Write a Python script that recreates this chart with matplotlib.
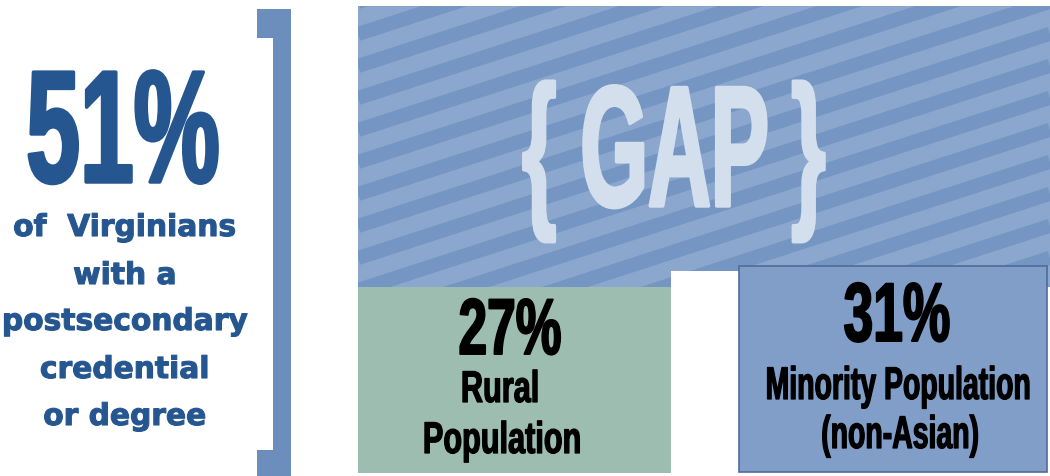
import matplotlib
matplotlib.use("Agg")
import numpy as np
import matplotlib.pyplot as plt
from matplotlib import font_manager
from matplotlib.patheffects import AbstractPathEffect
from matplotlib.transforms import Affine2D, Bbox
from matplotlib.patches import Rectangle
from matplotlib.text import Text

# ---- data ----
total_share = 51
total_lines = ["of  Virginians", "with a", "postsecondary", "credential", "or degree"]
group_names = ["Rural\nPopulation", "Minority Population\n(non-Asian)"]
group_shares = [27, 31]
gap_label = "{ GAP }"

# ---- colours ----
DARK_BLUE = "#25568f"
BRACKET = "#6c8ebc"
STRIPE_LIGHT = "#8ba7cd"
STRIPE_DARK = "#7596c3"
GREEN = "#9dbdb1"
BOX_BLUE = "#809ec8"
BOX_EDGE = "#4d6c9c"
GAP_TEXT = "#d3dfed"


class Tall(AbstractPathEffect):
    # stretch glyphs vertically from the baseline (gives a condensed look),
    # optionally thickening them with a stroke
    def __init__(self, sy, lw=0.0):
        super().__init__()
        self.sy = sy
        self.lw = lw

    def draw_path(self, renderer, gc, tpath, affine, rgbFace=None):
        by = affine.transform((0, 0))[1]
        t = affine + Affine2D().translate(0, -by).scale(1, self.sy).translate(0, by)
        gc0 = renderer.new_gc()
        gc0.copy_properties(gc)
        if self.lw > 0:
            gc0.set_linewidth(self.lw)
            gc0.set_foreground(rgbFace)
            gc0.set_joinstyle("round")
        renderer.draw_path(gc0, tpath, t, rgbFace)
        gc0.restore()


class TallText(Text):
    # report the stretched height so the extent matches what is drawn
    def __init__(self, *args, sy=1.0, **kwargs):
        super().__init__(*args, **kwargs)
        self._sy = sy

    def get_window_extent(self, renderer=None, dpi=None):
        bb = super().get_window_extent(renderer, dpi)
        by = self.get_transform().transform(self.get_unitless_position())[1]
        return Bbox.from_extents(bb.x0, by + (bb.y0 - by) * self._sy,
                                 bb.x1, by + (bb.y1 - by) * self._sy)


def pick_font():
    names = {f.name for f in font_manager.fontManager.ttflist}
    if "Liberation Sans Narrow" in names:
        return "Liberation Sans Narrow", 0.82
    return "Liberation Sans", 1.0


COND, COND_W = pick_font()


def cond_text(x, y, s, size, sx, color="black", lw=0.0, family=None):
    # size: height wanted; sx: width factor relative to Liberation Sans
    k = sx / COND_W if family is None else sx
    t = TallText(x, y, s, ha="center", va="baseline", fontsize=size * k,
                 family=family or COND, fontweight="bold", color=color,
                 path_effects=[Tall(1 / k, lw)], zorder=5, sy=1 / k)
    ax.add_artist(t)


fig = plt.figure(figsize=(10.5, 4.77), dpi=100)
ax = fig.add_axes([0, 0, 1, 1])
ax.set_xlim(0, 1050)
ax.set_ylim(477, 0)
ax.axis("off")

# bracket
for (x0, y0, w, h) in [(257, 10, 34, 29), (273, 10, 18, 467), (257, 451, 34, 26)]:
    ax.add_patch(Rectangle((x0, y0), w, h, color=BRACKET, lw=0))

# striped gap block
gap = ax.bar(358, 281, bottom=7, width=692, align="edge",
             color=STRIPE_LIGHT, linewidth=0, zorder=1)[0]
slope = 0.324
for c in np.arange(35 - 32 * 2, 288 + slope * 700 + 40, 32):
    ln, = ax.plot([358, 1050], [c, c - slope * 692], color=STRIPE_DARK,
                  lw=10.2, solid_capstyle="butt", zorder=2)
    ln.set_clip_path(gap)

# white notch between the two groups
ax.add_patch(Rectangle((671, 272), 68, 205, color="white", lw=0, zorder=3))

# group bars
bar_left = [358, 739]
bar_width = [313, 308]
bar_top = [288, 267]
bar_bottom = [474, 473]
ax.bar(bar_left[0], bar_bottom[0] - bar_top[0], bottom=bar_top[0],
       width=bar_width[0], align="edge", color=GREEN, linewidth=0, zorder=3)
ax.bar(bar_left[1], bar_bottom[1] - bar_top[1], bottom=bar_top[1],
       width=bar_width[1], align="edge", color=BOX_BLUE,
       edgecolor=BOX_EDGE, linewidth=1.2, zorder=3)

# gap label
cond_text(674, 207, gap_label, 124, 0.505, GAP_TEXT, lw=2.5)

# left side
cond_text(123, 183, f"{total_share}%", 115, 0.605, DARK_BLUE, lw=2.5)
line_y = [237, 285, 331, 379, 426]
for s, y in zip(total_lines, line_y):
    cond_text(125, y, s, 21.6, 0.99, DARK_BLUE, lw=0.8, family="DejaVu Sans")

# rural
cond_text(510, 355, f"{group_shares[0]}%", 57, 0.65, lw=1.4)
name1, name2 = group_names[0].split("\n")
cond_text(500, 403, name1, 32, 0.69, lw=0.9)
cond_text(502, 454, name2, 32, 0.69, lw=0.9)

# minority
cond_text(897, 342, f"{group_shares[1]}%", 60, 0.64, lw=1.4)
name1, name2 = group_names[1].split("\n")
cond_text(898, 400, name1, 33, 0.62, lw=0.9)
cond_text(900, 449, name2, 33, 0.62, lw=0.9)

fig.savefig("out.png", dpi=100)
